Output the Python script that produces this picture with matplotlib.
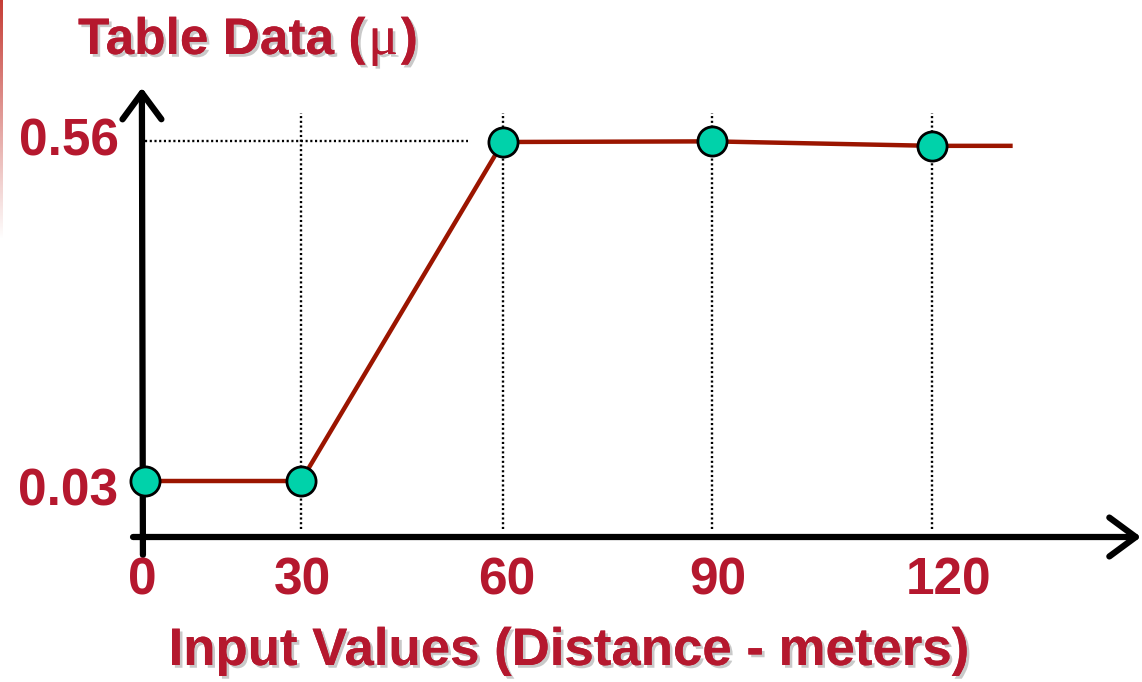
import numpy as np
import matplotlib
matplotlib.use("Agg")
import matplotlib.pyplot as plt
import matplotlib.patheffects as pe
from matplotlib.offsetbox import TextArea, HPacker, AnnotationBbox

# table lookup data
x_vals = [0, 30, 60, 90, 120]
y_vals = [0.03, 0.03, 0.56, 0.561, 0.554]
x_tick_labels = ["0", "30", "60", "90", "120"]
y_ticks = [0.03, 0.56]
y_tick_labels = ["0.03", "0.56"]
line_end_x = 131          # the curve is held flat past the last entry
title_main = "Table Data ("
title_mu = "\u03bc"
x_label = "Input Values (Distance - meters)"

RED_TEXT = "#B5182E"
RED_LINE = "#9B1500"
TEAL = "#00D2AA"
W, H = 1142, 682

# uneven spacing of the input axis: breakpoints (data) -> screen x
KX = np.array([0, 30, 60, 90, 120], float)
KP = np.array([145, 301, 503, 712, 932], float)


def _piecewise(v, xs, ys):
    v = np.asarray(v, float)
    out = np.interp(v, xs, ys)
    lo = (ys[1] - ys[0]) / (xs[1] - xs[0])
    hi = (ys[-1] - ys[-2]) / (xs[-1] - xs[-2])
    out = np.where(v < xs[0], ys[0] + (v - xs[0]) * lo, out)
    out = np.where(v > xs[-1], ys[-1] + (v - xs[-1]) * hi, out)
    return out


def fwd(v):
    return _piecewise(v, KX, KP)


def inv(p):
    return _piecewise(p, KP, KX)


fig = plt.figure(figsize=(W / 100, H / 100), dpi=100)
ax = fig.add_axes([0, 0, 1, 1])
ax.axis("off")
ax.set_xscale("function", functions=(fwd, inv))
ax.set_xlim(float(inv(0)), float(inv(W)))

# vertical scale: 0.03 sits at row 481, 0.56 at row 142
per_px = (0.56 - 0.03) / (481 - 142)
ax.set_ylim(0.03 - (H - 481) * per_px, 0.56 + 142 * per_px)

axis_y = 0.03 - (537 - 481) * per_px

# guide lines
dots = dict(color="black", lw=1.7, linestyle=(0, (0.9, 1.1)), zorder=1)
for xv in x_vals[1:]:
    ax.plot([xv, xv], [axis_y + 0.012, 0.605], **dots)
ax.plot([0, 54.8], [0.5615, 0.5615], **dots)

# axes with open arrow heads
arrow = dict(arrowstyle="->,head_length=0.95,head_width=0.7", lw=4.5,
             color="black", shrinkA=0, shrinkB=0, mutation_scale=20,
             capstyle="round", joinstyle="round")
ax.annotate("", xy=(-0.6, 0.645), xytext=(-0.4, axis_y - 0.028),
            arrowprops=arrow, zorder=3)
ax.annotate("", xy=(148.5, axis_y), xytext=(-2.3, axis_y),
            arrowprops=arrow, zorder=3)

# the curve and its table points
ax.plot(x_vals + [line_end_x], y_vals + [y_vals[-1]], color=RED_LINE,
        lw=3.2, zorder=4, solid_capstyle="butt")
ax.plot(x_vals, y_vals, linestyle="none", marker="o", markersize=21,
        markerfacecolor=TEAL, markeredgecolor="black", markeredgewidth=2,
        zorder=5)

font = dict(family=["Liberation Sans", "DejaVu Sans"], weight="bold",
            color=RED_TEXT)

x_label_dx = [-2, 1, 3, 4, 12]
for xv, lab, dx in zip(x_vals, x_tick_labels, x_label_dx):
    ax.annotate(lab, xy=(xv, axis_y), xytext=(dx, -32), textcoords="offset points",
                ha="center", va="center", fontsize=37, **font)

y_offsets = [-8, 0]
for yv, lab, dy in zip(y_ticks, y_tick_labels, y_offsets):
    ax.annotate(lab, xy=(0, yv), xytext=(-19, dy), textcoords="offset points",
                ha="right", va="center", fontsize=37, **font)

shadow = [pe.withSimplePatchShadow(offset=(2, -2), shadow_rgbFace="#888888",
                                   alpha=0.45), pe.Normal()]

# title: bold sans with a serif mu
t1 = TextArea(title_main, textprops=dict(fontsize=37, path_effects=shadow, **font))
t2 = TextArea(title_mu, textprops=dict(fontsize=40, family=["Liberation Serif"],
                                       color=RED_TEXT, path_effects=shadow))
t3 = TextArea(")", textprops=dict(fontsize=37, path_effects=shadow, **font))
title_box = HPacker(children=[t1, t2, t3], align="baseline", pad=0, sep=2)
ab = AnnotationBbox(title_box, (78, H - 40), xycoords="figure pixels",
                    box_alignment=(0, 0.5), frameon=False, pad=0)
fig.add_artist(ab)

fig.text(568 / W, 1 - 651 / H, x_label, ha="center", va="center",
         fontsize=38, path_effects=shadow, **font)

# thin red edge fading downward on the left
edge = fig.add_axes([0, 1 - 240 / H, 3 / W, 240 / H])
edge.axis("off")
grad = np.zeros((240, 1, 4))
grad[..., 0] = 0.75
grad[..., 1] = 0.15
grad[..., 2] = 0.12
grad[:, 0, 3] = np.linspace(0.9, 0.0, 240)
edge.imshow(grad, aspect="auto", interpolation="bilinear")

fig.savefig("out.png", dpi=100)
plt.close(fig)
